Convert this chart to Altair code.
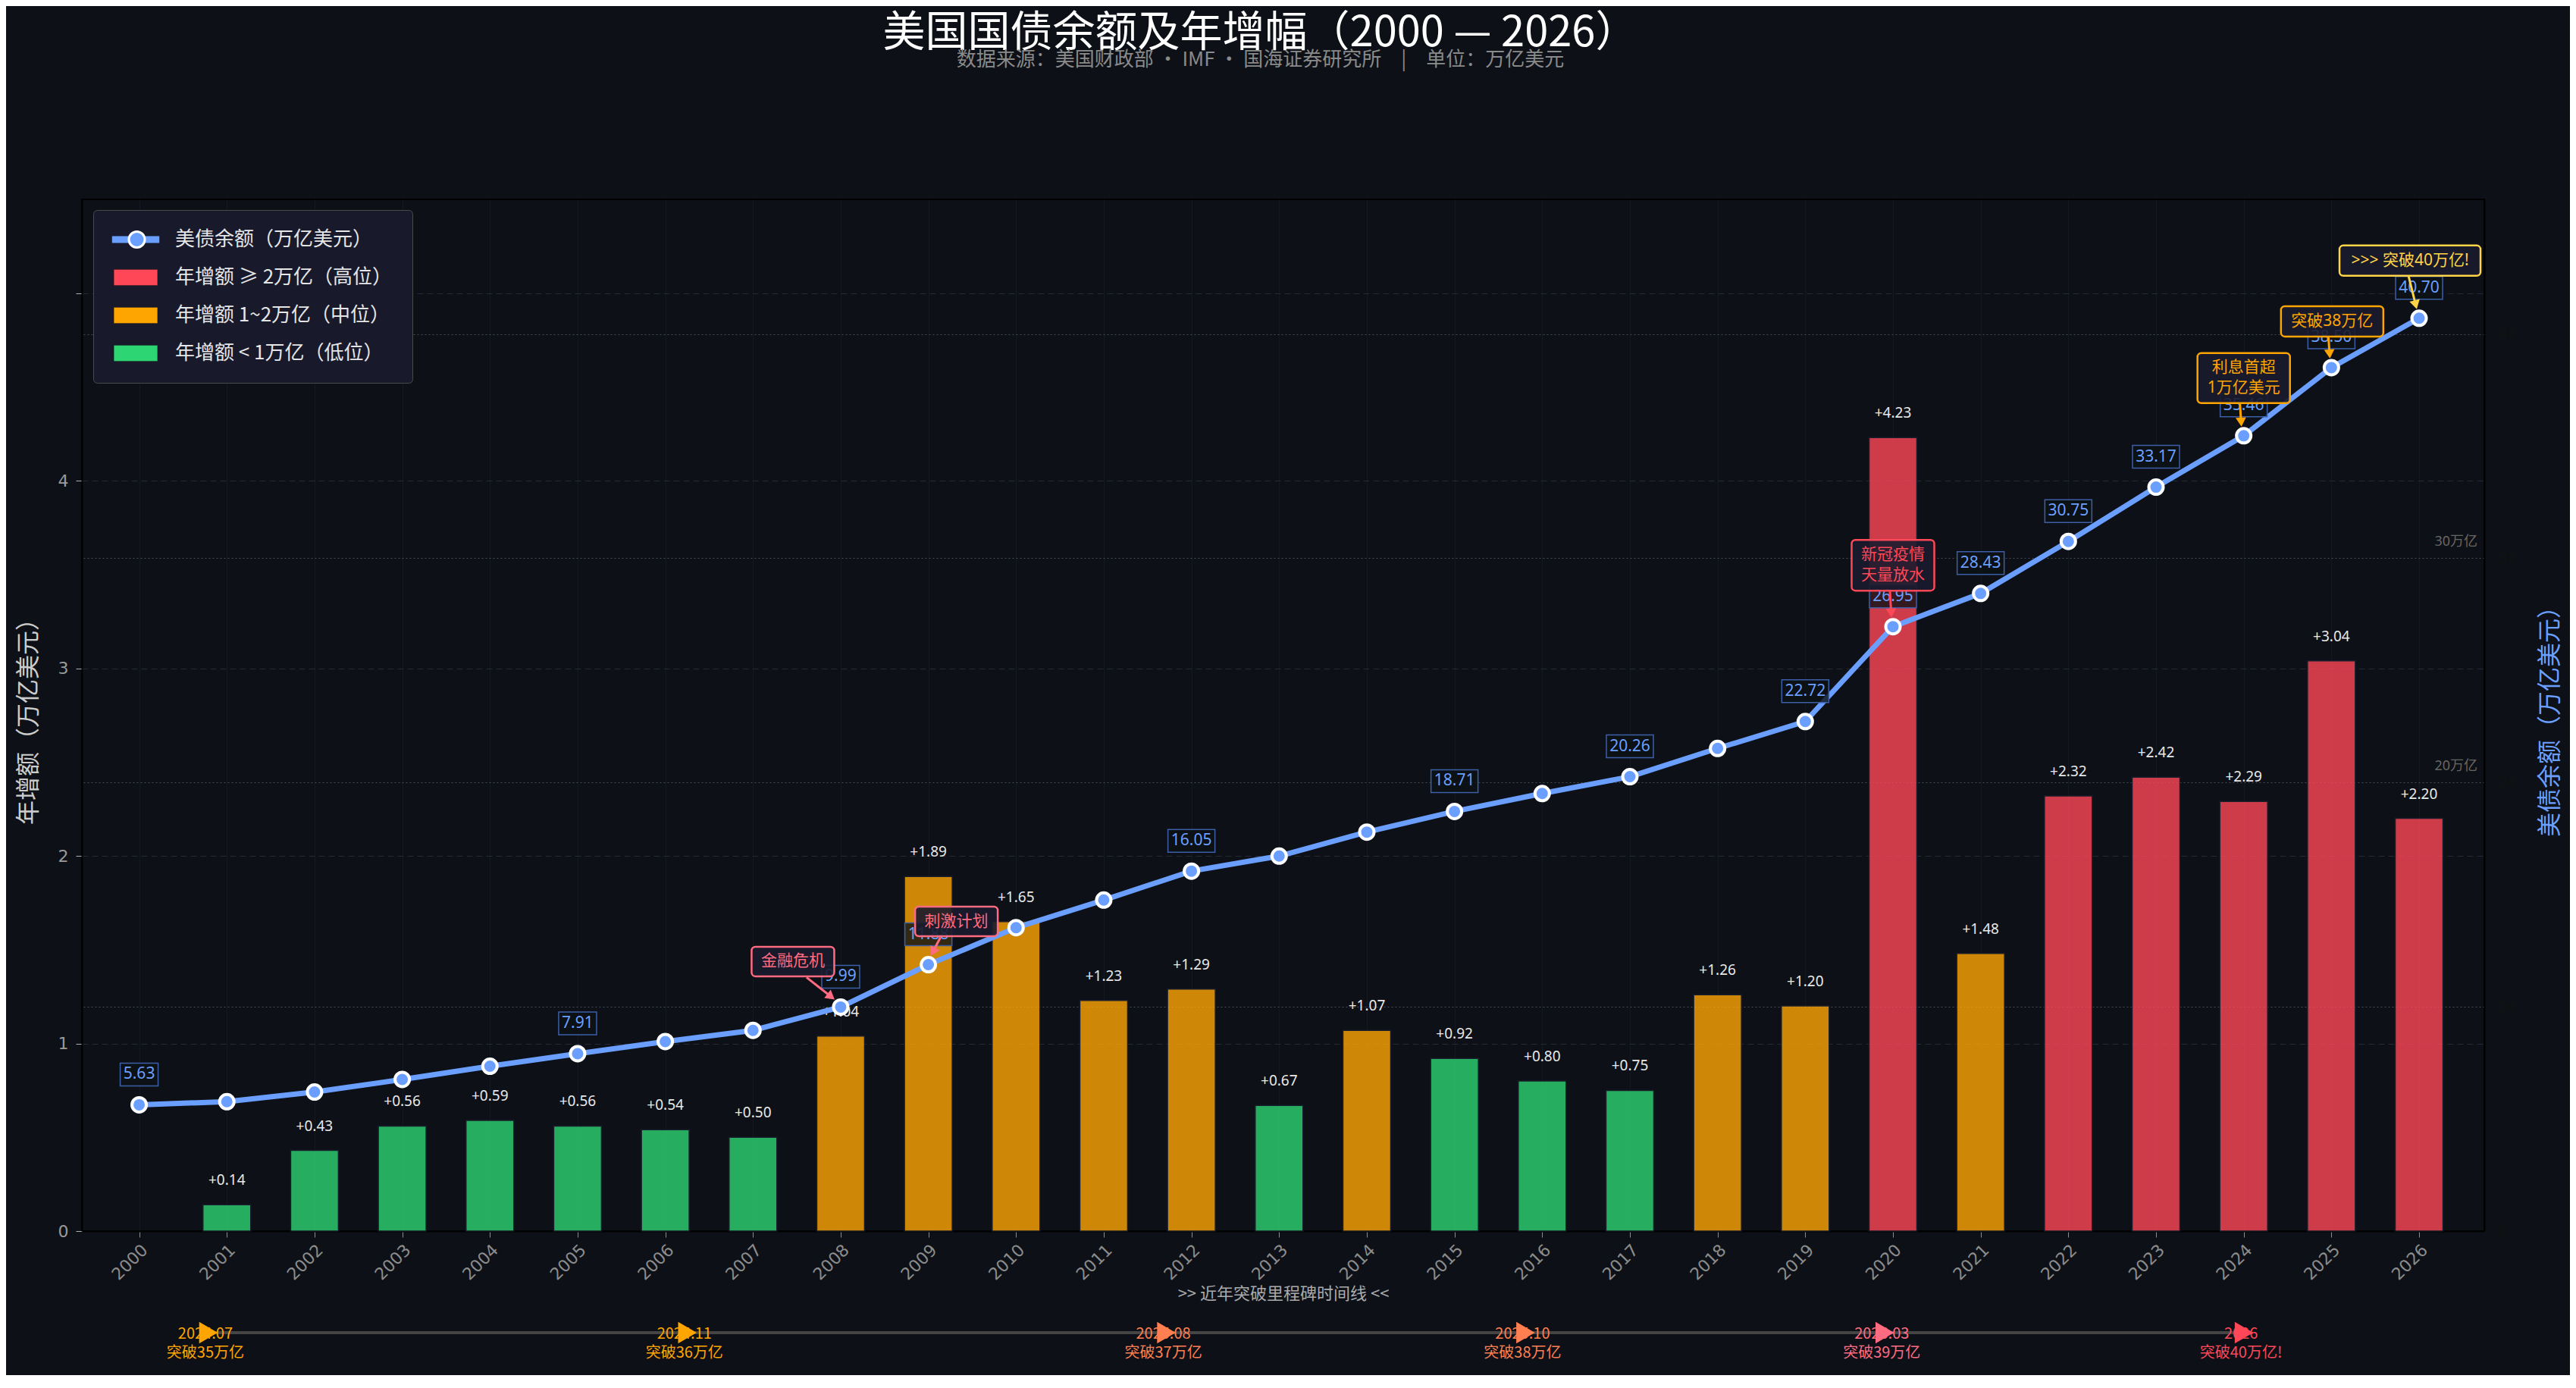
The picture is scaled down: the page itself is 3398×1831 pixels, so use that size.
import altair as alt
import pandas as pd

# ---------------- data ----------------
years = list(range(2000, 2027))
debt = [5.63, 5.77, 6.20, 6.76, 7.35, 7.91, 8.45, 8.95, 9.99, 11.88, 13.53, 14.76,
        16.05, 16.72, 17.79, 18.71, 19.51, 20.26, 21.52, 22.72, 26.95, 28.43,
        30.75, 33.17, 35.46, 38.50, 40.70]
increase = [None, 0.14, 0.43, 0.56, 0.59, 0.56, 0.54, 0.50, 1.04, 1.89, 1.65, 1.23,
            1.29, 0.67, 1.07, 0.92, 0.80, 0.75, 1.26, 1.20, 4.23, 1.48,
            2.32, 2.42, 2.29, 3.04, 2.20]
label_years = [2000, 2005, 2008, 2009, 2012, 2015, 2017, 2019,
               2020, 2021, 2022, 2023, 2024, 2025, 2026]
ref_levels = [20, 30]
ms_dates = ["2024.07", "2024.11", "2025.08", "2025.10", "2026.03", "2026"]
ms_texts = ["突破35万亿", "突破36万亿", "突破37万亿", "突破38万亿", "突破39万亿", "突破40万亿!"]

# ---------------- layout / style ----------------
W, H = 3169, 1361
XMIN, XMAX = 1999.39, 2026.7
YL = [0, 5.5]
YR = [0, 46]
BG = "#0d1117"
BLUE = "#6b9fff"
RED, ORANGE, GREEN = "#ff4757", "#ffa502", "#2ed573"
FONT_CJK = "Noto Sans CJK SC"
FONT_NUM = "Noto Sans, Noto Sans CJK SC"
FONT_TICK = "DejaVu Sans"
L0 = "美债余额（万亿美元）"
L1 = "年增额 ≥ 2万亿（高位）"
L2 = "年增额 1~2万亿（中位）"
L3 = "年增额 < 1万亿（低位）"
DOT_KEY = "marker"
MS_POS = [0.05, 0.25, 0.45, 0.60, 0.75, 0.90]
MS_COLORS = ["#ffa502", "#ffa502", "#ff7f50", "#ff7f50", "#ff6b81", "#ff4757"]
TL_Y = H + 134

df = pd.DataFrame({"year": years, "debt": debt, "inc": increase})
ms = pd.DataFrame({"date": ms_dates, "text": ms_texts, "f": MS_POS, "col": MS_COLORS})
refs = pd.DataFrame({"v": ref_levels})


def rrect(w, h, r):
    x0, y0, x1, y1 = -w / 2, -h / 2, w / 2, h / 2
    return (f"M{x0 + r},{y0}H{x1 - r}A{r},{r},0,0,1,{x1},{y0 + r}V{y1 - r}"
            f"A{r},{r},0,0,1,{x1 - r},{y1}H{x0 + r}A{r},{r},0,0,1,{x0},{y1 - r}"
            f"V{y0 + r}A{r},{r},0,0,1,{x0 + r},{y0}Z")


RECT_PATH = "M-2.4,-0.875H2.4V0.875H-2.4Z"
LINE_PATH = "M-2.6,-0.38H2.6V0.38H-2.6Z"

# common legend geometry (box at plot-relative 15,14)
LEG_X, LEG_Y, LEG_PAD = 15, 14, 26
leg_common = dict(orient="none", direction="vertical", labelFont=FONT_CJK, labelFontSize=26,
                  labelColor="#e6e6e6", labelOffset=39, labelLimit=600, symbolOffset=17,
                  symbolOpacity=1, rowPadding=24)

xs = alt.Scale(domain=[XMIN, XMAX], nice=False, zero=False)
x_axis = alt.Axis(values=years, format="d", labelAngle=315, labelAlign="right",
                  labelBaseline="top", labelFontSize=22, labelFont=FONT_TICK,
                  labelColor="#8c8c8c", labelPadding=6, labelFlush=False,
                  labelOverlap=False, tickColor="#8c8c8c", tickSize=8,
                  domainColor="#000000", domainWidth=2, grid=True, gridColor="#141820",
                  title=">> 近年突破里程碑时间线 <<", titleFont=FONT_CJK, titleFontSize=22,
                  titleColor="#aaaaaa", titleFontWeight="normal", titlePadding=4)
x_main = alt.X("year:Q", scale=xs, axis=x_axis)

yl_scale = alt.Scale(domain=YL, nice=False, zero=True)
yr_scale = alt.Scale(domain=YR, nice=False, zero=True)

y_left = alt.Y("inc:Q", scale=yl_scale, axis=alt.Axis(
    orient="left", values=[0, 1, 2, 3, 4, 5], format="d",
    labelExpr="datum.value <= 4 ? datum.label : ''",
    grid=True, gridColor="#252a34", gridDash=[8, 5], gridWidth=1,
    labelFont=FONT_TICK, labelFontSize=22, labelColor="#9a9a9a", labelPadding=10,
    labelFlush=False, tickColor="#b0b0b0", tickSize=8, domainColor="#000000", domainWidth=2,
    title="年增额（万亿美元）", titleFont=FONT_CJK, titleFontSize=32, titleFontWeight="normal",
    titleColor="#cccccc", titlePadding=22))

y_right = alt.Y("debt:Q", scale=yr_scale, axis=alt.Axis(
    orient="right", values=[0, 10, 20, 30, 40], grid=True, gridColor="#474b56",
    gridDash=[2, 3], gridWidth=1.2, labelColor="#111111", tickColor="#111111", tickSize=8,
    labelPadding=8, labelFont=FONT_TICK, labelFontSize=22, labelFlush=False,
    domainColor="#000000", domainWidth=2, title="美债余额（万亿美元）", titleColor=BLUE,
    titleFont=FONT_CJK, titleFontSize=32, titleFontWeight="normal", titleAngle=270,
    titlePadding=60))

# bar legend: carries the box; its blank title row hosts the line entry
legend_bars = alt.Legend(
    legendX=LEG_X, legendY=LEG_Y, padding=LEG_PAD, title="\u3000", titleFontSize=26,
    titlePadding=24, fillColor="#181a2c", strokeColor="#4a4a4a", cornerRadius=5,
    symbolType=RECT_PATH, symbolSize=576, symbolStrokeColor="rgba(0,0,0,0.25)",
    symbolStrokeWidth=1, zindex=2, **leg_common)
legend_line = alt.Legend(
    legendX=LEG_X + LEG_PAD, legendY=LEG_Y + LEG_PAD, padding=0, title=None,
    symbolSize=576, symbolFillColor=BLUE, symbolStrokeWidth=0, zindex=3, **leg_common)
legend_dot = alt.Legend(
    legendX=LEG_X + LEG_PAD, legendY=LEG_Y + LEG_PAD, padding=0, title=None,
    symbolType="circle", symbolSize=441, symbolFillColor=BLUE,
    symbolStrokeWidth=3, zindex=4, labelExpr="''",
    **{**leg_common, "symbolOffset": 18.5, "labelOffset": 40.5})

# ---------------- left layer: bars ----------------
bar_base = alt.Chart(df).transform_filter("isValid(datum.inc)").transform_calculate(
    cat=f"datum.inc >= 2 ? '{L1}' : (datum.inc >= 1 ? '{L2}' : '{L3}')",
    t="'+' + format(datum.inc, '.2f')")

bars = bar_base.mark_bar(size=63, opacity=0.8, stroke="#1c2030", strokeWidth=1.5).encode(
    x=x_main, y=y_left,
    color=alt.Color("cat:N", scale=alt.Scale(domain=[L1, L2, L3], range=[RED, ORANGE, GREEN]),
                    legend=legend_bars))
bar_lbl = bar_base.mark_text(dy=-32, baseline="middle", fontSize=19, font=FONT_NUM,
                             color="#e8e8e8").encode(x="year:Q", y="inc:Q", text="t:N")
left = alt.layer(bars, bar_lbl)

# ---------------- right layer: debt line ----------------
line = alt.Chart(df).mark_line(color=BLUE, strokeWidth=7).encode(x=x_main, y=y_right)
pts = alt.Chart(df).mark_point(filled=True, fill=BLUE, stroke="#ffffff", strokeWidth=4,
                               size=361, opacity=1).encode(x="year:Q", y="debt:Q")

# legend-only layers (no rows drawn)
empty = alt.Chart(df).transform_filter("false").transform_calculate(
    series=f"'{L0}'", series_dot=f"'{DOT_KEY}'")
leg_line_layer = empty.mark_point(filled=True, fill=BLUE, opacity=1).encode(
    x="year:Q", y="debt:Q",
    shape=alt.Shape("series:N", scale=alt.Scale(domain=[L0], range=[LINE_PATH]),
                    legend=legend_line))
leg_dot_layer = empty.mark_point(filled=True, fill=BLUE, strokeWidth=3, opacity=1).encode(
    x="year:Q", y="debt:Q",
    stroke=alt.Stroke("series_dot:N", scale=alt.Scale(domain=[DOT_KEY], range=["#ffffff"]),
                      legend=legend_dot))

lab_base = alt.Chart(df).transform_filter(
    alt.FieldOneOfPredicate(field="year", oneOf=label_years)).transform_calculate(
    lbl="format(datum.debt, '.2f')").transform_calculate(
    bw="length(datum.lbl) * 12 + 2").transform_calculate(
    shp="'M' + (-datum.bw / 2) + ',-15H' + (datum.bw / 2) + 'V15H' + (-datum.bw / 2) + 'Z'")
lab_box = lab_base.mark_point(filled=True, fill=BG, fillOpacity=0.8, stroke="#3d5fa8",
                              strokeWidth=1.5, size=4, opacity=1, yOffset=-40).encode(
    x="year:Q", y="debt:Q", shape=alt.Shape("shp:N", scale=None))
lab_txt = lab_base.mark_text(dy=-40, baseline="middle", fontSize=21, font=FONT_NUM,
                             color=BLUE).encode(x="year:Q", y="debt:Q", text="lbl:N")

ref_txt = alt.Chart(refs).transform_calculate(t="datum.v + '万亿'").mark_text(
    align="right", baseline="middle", dx=-4, dy=-21, fontSize=18, font=FONT_NUM,
    color="#666666").encode(x=alt.X(datum=XMAX), y=alt.Y("v:Q"), text="t:N")


def annotation(year, text, color, w, h, dx, dy, start, head, angle):
    base = alt.Chart(df).transform_filter(alt.datum.year == year)
    enc = dict(x="year:Q", y="debt:Q")
    n_lines = text.count("\n") + 1
    rule = base.mark_rule(color=color, strokeWidth=3, xOffset=start[0], yOffset=start[1],
                          x2Offset=head[0], y2Offset=head[1]).encode(
        x="year:Q", x2="year", y="debt:Q", y2="debt")
    tip = base.mark_point(shape="triangle-down", angle=angle, size=190, filled=True,
                          color=color, opacity=1, xOffset=head[0],
                          yOffset=head[1]).encode(**enc)
    box = base.mark_point(shape=rrect(w, h, 5), size=4, filled=True, fill="#1a1b2e",
                          fillOpacity=0.9, stroke=color, strokeWidth=2.5, opacity=1,
                          xOffset=dx, yOffset=dy).encode(**enc)
    txt = base.mark_text(text=text, lineBreak="\n", lineHeight=27, dx=dx,
                         dy=dy - (n_lines - 1) * 13.5,
                         baseline="middle", align="center", fontSize=21, font=FONT_NUM,
                         color=color).encode(**enc)
    return [rule, tip, box, txt]


annots = []
annots += annotation(2008, "金融危机", "#ff6b81", 109, 39, -63, -60, (-45, -39), (-12.7, -13.7), 308)
annots += annotation(2009, "刺激计划", "#ff6b81", 109, 39, 37, -57, (16, -36), (6, -17), 29.5)
annots += annotation(2020, "新冠疫情\n天量放水", "#ff4757", 109, 67, 0, -81, (-4, -47), (-2.3, -18), 357)
annots += annotation(2024, "利息首超\n1万亿美元", "#ffa502", 122, 66, 0, -76, (-5, -43), (-3.4, -18), 356)
annots += annotation(2025, "突破38万亿", "#ffa502", 135, 40, 1, -61, (-4, -41), (-2.4, -18), 356)
annots += annotation(2026, ">>> 突破40万亿!", "#ffd447", 186, 40, -12, -76, (-14, -56), (-4.5, -17.8), 346)

# ---------------- timeline below the axis ----------------
tl_base = alt.Chart(ms).transform_calculate(year=f"{XMIN} + datum.f * {XMAX - XMIN}")
tl_line = tl_base.transform_aggregate(year="min(year)", year2="max(year)").mark_rule(
    color="#454545", strokeWidth=4).encode(x="year:Q", x2="year2:Q", y=alt.value(TL_Y))
tl_date = tl_base.mark_text(fontSize=20, font=FONT_CJK, baseline="middle").encode(
    x="year:Q", y=alt.value(TL_Y + 2), text="date:N", fill=alt.Fill("col:N", scale=None))
tl_tri = tl_base.mark_point(shape="triangle-right", size=800, filled=True, opacity=1,
                            xOffset=4).encode(
    x="year:Q", y=alt.value(TL_Y), fill=alt.Fill("col:N", scale=None))
tl_txt = tl_base.mark_text(fontSize=20, font=FONT_CJK, baseline="middle").encode(
    x="year:Q", y=alt.value(TL_Y + 27), text="text:N", fill=alt.Fill("col:N", scale=None))

right = alt.layer(line, pts, leg_line_layer, leg_dot_layer, lab_box, lab_txt, ref_txt,
                  *annots, tl_line, tl_date, tl_tri, tl_txt)

chart = alt.layer(left, right).resolve_scale(y="independent").properties(
    width=W, height=H,
    autosize=alt.AutoSizeParams(type="none"),
    padding={"left": 100, "top": 255, "right": 113, "bottom": 190},
    title=alt.TitleParams(
        text="美国国债余额及年增幅（2000 — 2026）",
        subtitle="数据来源：美国财政部 · IMF · 国海证券研究所\u2002\u2002|\u2002\u2002单位：万亿美元",
        font=FONT_CJK, fontSize=56, fontWeight="normal", color="#ffffff",
        subtitleFont=FONT_CJK, subtitleFontSize=26, subtitleColor="#8a8a8a",
        anchor="middle", frame="group", dx=-30, offset=170, subtitlePadding=-7),
).configure(background=BG).configure_view(stroke="#000000", strokeWidth=2, fill=BG)

chart.save("out.html", embed_options={"renderer": "svg", "actions": False})
